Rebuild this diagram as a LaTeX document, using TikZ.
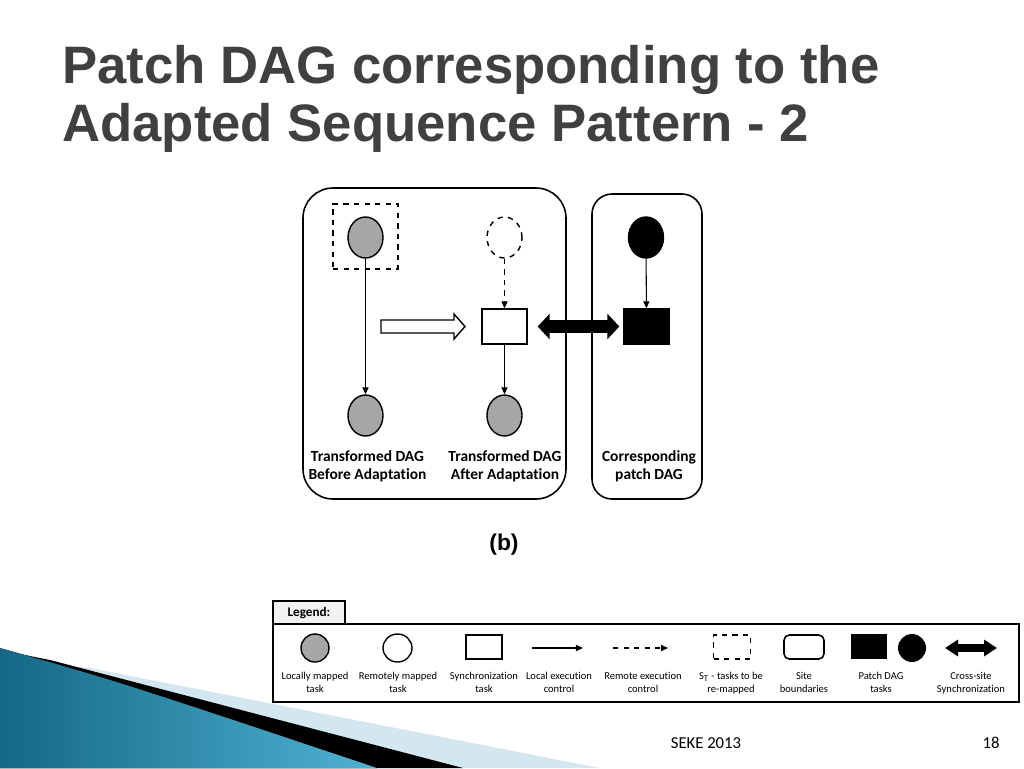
\documentclass[tikz,border=0pt]{standalone}
\usepackage{fontspec}
\setmainfont{Carlito}[Ligatures=NoCommon]
\newfontfamily\titlefont{Liberation Sans}
\usepackage{tikz}
\usetikzlibrary{arrows.meta, positioning, calc, shapes.geometric}
\definecolor{titlegray}{RGB}{64,64,64}
\definecolor{taskgray}{RGB}{166,166,166}
\definecolor{tealdark}{RGB}{20,104,134}
\definecolor{teallight}{RGB}{80,178,212}
\definecolor{paleblue}{RGB}{212,231,241}
\definecolor{tabgray}{RGB}{242,242,242}

\begin{document}
\begin{tikzpicture}[x=0.02cm, y=-0.02cm,
  task/.style={ellipse, draw, line width=0.8pt, minimum width=0.7cm, minimum height=0.82cm, inner sep=0pt},
  sync/.style={rectangle, draw, line width=0.8pt, minimum width=0.9cm, minimum height=0.7cm, inner sep=0pt},
  flow/.style={-{Triangle[length=4pt,width=3.5pt]}, line width=0.6pt},
  dagtext/.style={font=\bfseries\fontsize{8.8}{10.3}\selectfont, align=center},
  legtext/.style={font=\fontsize{6}{7.4}\selectfont, anchor=base, inner sep=0pt},
  site/.style={draw, line width=0.9pt}]

  \useasboundingbox (0,0) rectangle (1024,768);

  % Slide decoration, bottom left
  \fill[paleblue] (90,668) -- (600,768) -- (0,768) -- (0,660) -- cycle;
  \fill[black] (50,660) -- (463,768) -- (0,768) -- (0,650) -- cycle;
  \fill[left color=tealdark, right color=teallight] (0,648) .. controls (120,682) .. (377,768) -- (0,768) -- cycle;

  % Title
  \node[anchor=base west, inner sep=0pt, text=titlegray, font=\titlefont\bfseries\fontsize{30}{36}\selectfont] (title1) at (62,83) {Patch DAG corresponding to the};
  \node[anchor=base west, inner sep=0pt, text=titlegray, font=\titlefont\bfseries\fontsize{30}{36}\selectfont] (title2) at (62,141) {Adapted Sequence Pattern - 2};

  % Site boundaries
  \draw[site, rounded corners=0.6cm] (303,188) rectangle (566,499);
  \draw[site, rounded corners=0.4cm] (592,194) rectangle (702,499);

  % Transformed DAG before adaptation
  \node[task, fill=taskgray] (bTop) at (365.5,237.5) {};
  \node[draw, dashed, line width=0.8pt, minimum size=1.3cm] (bSet) at (365.5,236.5) {};
  \node[task, fill=taskgray] (bBot) at (365.5,415.5) {};
  \draw[flow] (bTop) -- (bBot);
  \node[dagtext] (bLab) at (367.5,466) {Transformed DAG\\Before Adaptation};

  % Adaptation
  \draw[line width=0.8pt, fill=white] (381,320) -- (454,320) -- (454,314) -- (465,326.5) -- (454,339) -- (454,333) -- (381,333) -- cycle;

  % Transformed DAG after adaptation
  \node[task, dashed] (aTop) at (504.5,237.5) {};
  \node[sync] (aSync) at (504.5,326.5) {};
  \node[task, fill=taskgray] (aBot) at (504.5,415.5) {};
  \draw[flow, dashed] (aTop) -- (aSync);
  \draw[flow] (aSync) -- (aBot);
  \node[dagtext] (aLab) at (505,466) {Transformed DAG\\After Adaptation};

  % Corresponding patch DAG
  \node[task, fill=black] (pTop) at (646,237.5) {};
  \node[sync, fill=black] (pSync) at (646.5,326.5) {};
  \draw[flow] (pTop) -- (pSync);
  \node[dagtext] (pLab) at (649,466) {Corresponding\\patch DAG};

  % Cross-site synchronization
  \draw[line width=0.26cm, {Triangle[length=0.24cm,width=0.5cm]}-{Triangle[length=0.24cm,width=0.5cm]}, shorten <=0.2cm, shorten >=0.08cm] (aSync.east) -- (pSync.west);

  \node[font=\titlefont\bfseries\fontsize{13}{15}\selectfont] (fig) at (504,545) {(b)};

  % Legend
  \draw[site, fill=tabgray] (273,601) rectangle (345,624);
  \node[font=\bfseries\fontsize{7.5}{9}\selectfont] (legHead) at (309,613) {Legend:};
  \draw[site] (273,624) rectangle (1019,702);

  \node[task, fill=taskgray, minimum width=0.56cm, minimum height=0.56cm] (lgLocal) at (315,648) {};
  \node[task, minimum width=0.58cm, minimum height=0.56cm] (lgRemote) at (397.5,648) {};
  \node[sync, minimum width=0.72cm, minimum height=0.48cm] (lgSync) at (484,647) {};
  \coordinate (lgL1) at (532,648);
  \coordinate (lgL2) at (583,648);
  \draw[flow] (lgL1) -- (lgL2);
  \coordinate (lgR1) at (613,648);
  \coordinate (lgR2) at (668,648);
  \draw[flow, dashed] (lgR1) -- (lgR2);
  \node[draw, dashed, line width=0.8pt, minimum width=0.74cm, minimum height=0.48cm] (lgSet) at (732,647) {};
  \node[site, rounded corners=3pt, minimum width=0.8cm, minimum height=0.48cm] (lgSite) at (804,647) {};
  \node[fill=black, minimum width=0.72cm, minimum height=0.5cm] (lgPatchR) at (869,646.5) {};
  \node[circle, fill=black, minimum size=0.56cm, inner sep=0pt] (lgPatchC) at (912,648) {};
  \coordinate (lgX1) at (945,648);
  \coordinate (lgX2) at (997,648);
  \draw[line width=0.15cm, {Triangle[length=0.26cm,width=0.32cm]}-{Triangle[length=0.26cm,width=0.32cm]}] (lgX1) -- (lgX2);

  \foreach \x/\one/\two [count=\i] in {315/Locally mapped/task, 398/Remotely mapped/task,
      484/Synchronization/task, 559/Local execution/control, 643/Remote execution/control,
      731/{S\textsubscript{T} - tasks to be}/re-mapped, 804/Site/boundaries,
      881/Patch DAG/tasks, 971/Cross-site/Synchronization}{
    \node[legtext] (lgTop\i) at (\x,679) {\one};
    \node[legtext] (lgBot\i) at (\x,692) {\two};
  }

  % Footer
  \node[font=\fontsize{9.5}{11}\selectfont] (conf) at (706,743) {SEKE 2013};
  \node[font=\fontsize{9.5}{11}\selectfont] (page) at (991,743) {18};

\end{tikzpicture}
\end{document}
